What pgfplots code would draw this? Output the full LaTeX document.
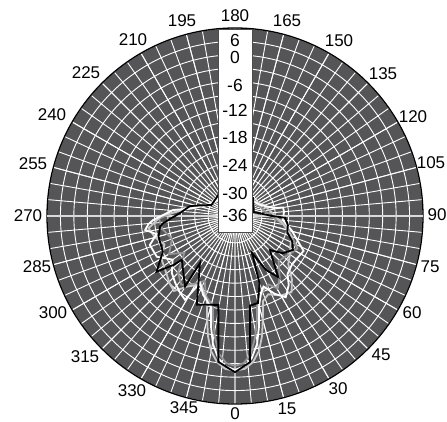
\documentclass[border=0pt]{standalone}
\usepackage{fontspec}
\setmainfont{Liberation Sans}
\usepackage{pgfplots}
\pgfplotsset{compat=1.18}
\usepackage{pgfplotstable}
\usepgfplotslibrary{polar}
\usetikzlibrary{calc}

\definecolor{bg}{RGB}{85,85,87}
\definecolor{lgray}{RGB}{200,200,200}
\definecolor{mgray}{RGB}{150,150,150}

% angle (0 = bottom, counter-clockwise) and level in dB
\pgfplotstableread{
ang db
0 -1.1
5.9 -3.2
8 -12
9.5 -15.7
14.8 -15.9
20 -20
24.7 -26.9
30 -22
35.2 -19.3
45.8 -25.1
52 -22.5
59.6 -21
66 -22
72.9 -23.8
80 -24
88 -24.8
90 -27.7
101.9 -31.7
135 -30.3
180 -31
218.5 -30
244.7 -30.2
257.5 -25.7
266.9 -23.7
275.6 -19.9
278.1 -19.1
285.1 -18.3
296.4 -18
305.4 -14.5
308.5 -18.4
309.5 -20.6
324.7 -16.7
323.3 -22.9
336.7 -14.4
349.4 -15.8
353.5 -3.2
360 -1.1
}\blackdata

\pgfplotstableread{
ang db
0 -1.6
3.8 -2.4
6.8 -4.1
9.8 -7
12.3 -10.8
14.6 -14.8
18 -17.5
22 -19
27 -16.5
32 -14.6
38 -16.5
42 -18.5
50 -19.3
56 -19.2
63 -18.8
68 -20.8
76 -23
85 -25.3
95 -25
100 -25.1
102 -27.3
115 -30
140 -31
180 -32
220 -31
250 -29
260 -26.2
264.5 -22.1
272.8 -17.7
275.3 -16.6
278.8 -15.7
283 -18
288.8 -15.9
297.5 -16.3
305 -19
312 -17
318 -16
324.5 -14.9
329.2 -14.2
332.4 -19.1
338 -17
342 -16
345.4 -14.8
347.7 -10.8
350.2 -7
353.2 -4.1
356.2 -2.4
360 -1.6
}\whitedata

\pgfplotstableread{
ang db
0 -1.4
3.7 -1.8
7 -3.1
10.1 -5.4
12.7 -8.5
15.6 -12.8
18.2 -16
23 -17
30 -15.5
36.6 -14.8
42 -17
48 -20
55 -21
62 -22
70 -22.5
80 -25
90 -27
110 -29
140 -31
180 -32
220 -31
250 -29
262 -25
270 -19.5
278 -16.5
285 -17.5
292 -19
300 -17
310 -16
316 -15
320.9 -14.4
326 -17
334 -19
338 -17.5
341.8 -16
344.4 -12.8
347.3 -8.5
349.9 -5.4
353 -3.1
356.3 -1.8
360 -1.4
}\lgraydata

\pgfplotstableread{
ang db
0 -2.5
3.5 -3.1
6.6 -5
9.3 -8.4
11.8 -12
13.7 -15.3
20 -18
26 -19
30.5 -17.2
36 -19
44 -22
52 -21.5
58 -20.8
62.6 -20.3
68 -22
78 -24
90 -28
110 -30
140 -31
180 -32
220 -31
255 -28
265 -23
272 -19
280 -19.5
290 -21
300 -19
306 -22
315 -18
322 -16.5
328 -18
335 -20
340 -17
346.3 -15.3
348.2 -12
350.7 -8.4
353.4 -5
356.5 -3.1
360 -2.5
}\mgraydata

\begin{document}
\begin{tikzpicture}
\begin{polaraxis}[
  scale only axis,
  width=376pt, height=376pt,
  xmin=0, xmax=360, ymin=0, ymax=42,
  xtick={0,15,...,345}, xticklabels={},
  minor xtick={0,5,...,355},
  ytick={0,3,...,42}, yticklabels={},
  grid=both,
  major grid style={white, line width=0.9pt},
  minor grid style={white, line width=0.9pt},
  axis line style={black, line width=1.3pt},
  y axis line style={draw=none},
  major tick length=0pt, minor tick length=0pt,
  axis background/.style={fill=bg},
  every axis plot/.append style={line width=1.8pt, line join=miter, mark=none},
]
\draw[gray!30, line width=1.6pt] (axis cs:0,42) -- (axis cs:180,42);
\addplot[mgray] table[x expr=\thisrow{ang}-90, y expr=\thisrow{db}+36] {\mgraydata};
\addplot[lgray] table[x expr=\thisrow{ang}-90, y expr=\thisrow{db}+36] {\lgraydata};
\addplot[white] table[x expr=\thisrow{ang}-90, y expr=\thisrow{db}+36] {\whitedata};
\addplot[black] table[x expr=\thisrow{ang}-90, y expr=\thisrow{db}+36] {\blackdata};
\coordinate (O) at (axis cs:0,0);
\end{polaraxis}
% angle labels around the rim
\foreach \lab/\dx/\dy in {180/0/200, 165/52/195, 150/104/175, 135/148/142, 120/178/99, 105/196/53,
    90/202/1, 75/195/-51, 60/177/-97, 45/146/-139, 30/103/-173, 15/52/-193, 0/0/-198,
    345/-51/-192, 330/-103/-175, 315/-150/-141, 300/-182/-97, 285/-198/-51, 270/-207/0,
    255/-202/52, 240/-183/101, 225/-149/143, 210/-102/176, 195/-53/195}
  \node[font=\fontsize{17}{17}\selectfont, inner sep=0pt] at ($(O)+(\dx pt,\dy pt)$) {\lab};
% radial scale box
\draw[fill=white, draw=gray!60!black, line width=0.6pt] ($(O)+(-17pt,-16pt)$) rectangle ($(O)+(17pt,187pt)$);
\begin{scope}[every node/.style={font=\fontsize{17.5}{17.5}\selectfont, inner sep=0pt}]
\node at ($(O)+(0,176pt)$) {6};
\node at ($(O)+(0,159pt)$) {0};
\node at ($(O)+(0,131pt)$) {-6};
\node at ($(O)+(0,106pt)$) {-12};
\node at ($(O)+(0,79pt)$) {-18};
\node at ($(O)+(0,51pt)$) {-24};
\node at ($(O)+(0,23pt)$) {-30};
\node at ($(O)+(0,1pt)$) {-36};
\end{scope}
\pgfresetboundingbox
\path[use as bounding box] ($(O)+(-235pt,-206pt)$) rectangle ($(O)+(212pt,216pt)$);
\end{tikzpicture}
\end{document}
